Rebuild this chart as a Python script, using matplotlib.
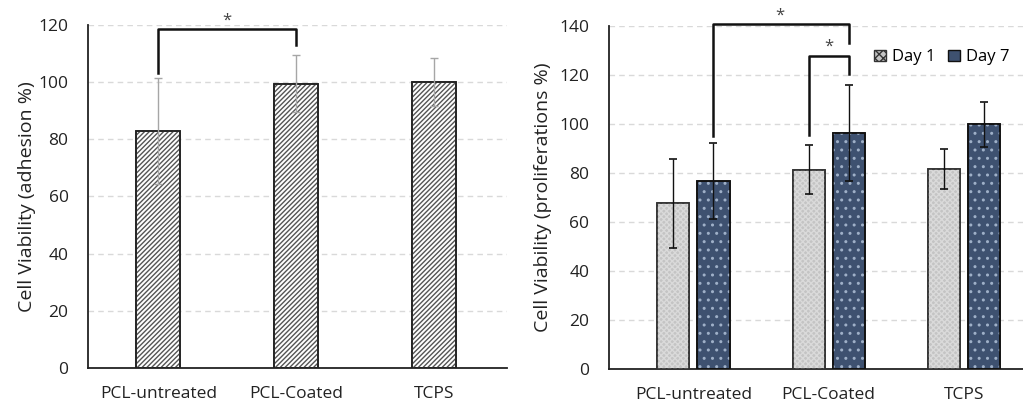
import numpy as np
import matplotlib
matplotlib.use("Agg")
import matplotlib.pyplot as plt
from matplotlib.patches import Patch

plt.rcParams['font.family'] = ['Open Sans', 'DejaVu Sans']

# data
groups = ['PCL-untreated', 'PCL-Coated', 'TCPS']
adhesion = [83, 99.5, 100]
adhesion_err = [18.5, 10, 8.5]

day1 = [67.5, 81.3, 81.4]
day1_err = [18.3, 10, 8.2]
day7 = [76.7, 96.2, 99.8]
day7_err = [15.6, 19.5, 9.1]

fig = plt.figure(figsize=(10.23, 4.01), dpi=100)

# ---------- left chart: adhesion
ax1 = fig.add_axes([0.086, 0.082, 0.41, 0.856])
x = np.arange(len(groups))
ax1.bar(x, adhesion, width=0.32, color='white', edgecolor='#222222', linewidth=1.2, zorder=2)
ax1.bar(x, adhesion, width=0.32, color='none', edgecolor='#555555', hatch='///////', linewidth=0, zorder=3)
ax1.bar(x, adhesion, width=0.32, color='none', edgecolor='#222222', linewidth=1.2, zorder=4)
ax1.errorbar(x, adhesion, yerr=adhesion_err, fmt='none', ecolor='#a6a6a6', elinewidth=1,
             capsize=3, capthick=1, zorder=5)
ax1.set_ylim(0, 120)
ax1.set_xlim(-0.51, 2.53)
ax1.set_yticks(np.arange(0, 121, 20))
ax1.set_xticks(x)
ax1.set_xticklabels(groups)
ax1.set_ylabel('Cell Viability (adhesion %)', fontsize=14, color='#222222', labelpad=2)

# significance bracket
ax1.plot([0, 0, 1, 1], [103, 118.4, 118.4, 113], color='#111111', lw=1.8, zorder=6, clip_on=False)
ax1.text(0.5, 118.6, '*', ha='center', va='bottom', fontsize=12, color='#444444')

# ---------- right chart: proliferation
ax2 = fig.add_axes([0.595, 0.080, 0.405, 0.856])
off = 0.148
w = 0.237
ax2.bar(x - off, day1, width=w, color='#c4c4c4', edgecolor='#333333', linewidth=1.2, zorder=2)
ax2.bar(x - off, day1, width=w, color='none', edgecolor='#dadada', hatch='xxxxxx', linewidth=0, zorder=3)
ax2.bar(x - off, day1, width=w, color='none', edgecolor='#333333', linewidth=1.2, zorder=4)
ax2.bar(x + off, day7, width=w, color='#3e5170', edgecolor='#111111', linewidth=1.2, zorder=2)
ax2.bar(x + off, day7, width=w, color='none', edgecolor='#9fb0c8', hatch='..', linewidth=0, zorder=3)
ax2.bar(x + off, day7, width=w, color='none', edgecolor='#111111', linewidth=1.2, zorder=4)
ax2.errorbar(x - off, day1, yerr=day1_err, fmt='none', ecolor='#111111', elinewidth=1,
             capsize=3, capthick=1.2, zorder=5)
ax2.errorbar(x + off, day7, yerr=day7_err, fmt='none', ecolor='#111111', elinewidth=1,
             capsize=3, capthick=1.2, zorder=5)
ax2.set_ylim(0, 140)
ax2.set_xlim(-0.627, 2.437)
ax2.set_yticks(np.arange(0, 141, 20))
ax2.set_xticks(x)
ax2.set_xticklabels(groups)
ax2.set_ylabel('Cell Viability (proliferations %)', fontsize=14, color='#222222', labelpad=5)

ax2.plot([off, off, 1 + off, 1 + off], [95, 140.6, 140.6, 132.8], color='#111111', lw=1.8,
         zorder=6, clip_on=False)
ax2.text(0.64, 140.8, '*', ha='center', va='bottom', fontsize=12, color='#444444')
ax2.plot([1 - off, 1 - off, 1 + off, 1 + off], [95.4, 127.8, 127.8, 120.3], color='#111111', lw=1.8,
         zorder=6, clip_on=False)
ax2.text(1.0, 128.0, '*', ha='center', va='bottom', fontsize=12, color='#444444')

# legend
handles = [Patch(facecolor='#c4c4c4', edgecolor='#333333', hatch='xxxx', label='Day 1'),
           Patch(facecolor='#3e5170', edgecolor='#111111', label='Day 7')]
ax2.legend(handles=handles, loc='upper right', bbox_to_anchor=(0.995, 0.965), ncol=2, frameon=False,
           fontsize=12, handlelength=0.7, handleheight=0.7, handletextpad=0.35, columnspacing=0.8,
           borderaxespad=0.3)

for ax in (ax1, ax2):
    ax.spines['top'].set_visible(False)
    ax.spines['right'].set_visible(False)
    ax.spines['left'].set_color('#222222')
    ax.spines['bottom'].set_color('#222222')
    ax.spines['left'].set_linewidth(1.3)
    ax.spines['bottom'].set_linewidth(1.3)
    ax.yaxis.grid(True, linestyle=(0, (4, 3)), color='#d9d9d9', linewidth=1)
    ax.set_axisbelow(True)
    ax.tick_params(axis='both', length=0, labelsize=12.5, colors='#222222')
    ax.tick_params(axis='y', pad=14)
    ax.tick_params(axis='x', pad=13)

fig.savefig('out.png', dpi=100)
